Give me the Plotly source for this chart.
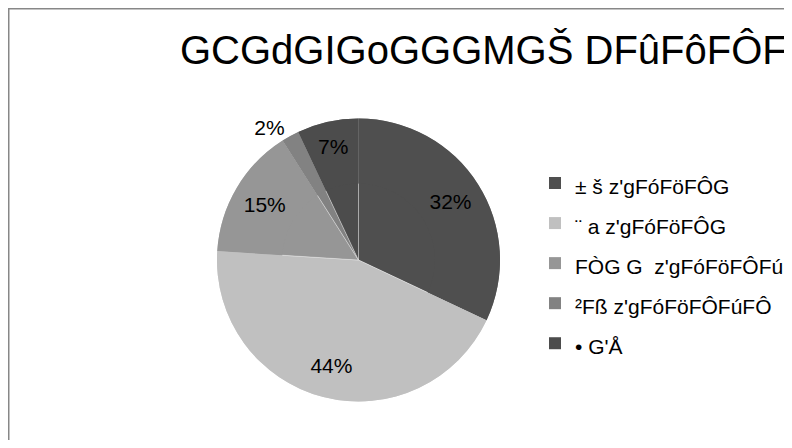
import plotly.graph_objects as go

title_text = "GCGdGIGoGGGMGŠ DFûFôFÔFúFÔ"
categories = ["± š z'gFóFöFÔG", "¨ a z'gFóFöFÔG", "FÒG G  z'gFóFöFÔFú", "²Fß z'gFóFöFÔFúFÔ", "• G'Å"]
values = [32, 44, 15, 2, 7]
colors = ["#4f4f4f", "#c0c0c0", "#969696", "#828282", "#4c4c4c"]

# the page adds an 8px body margin, so the figure is 16px smaller than the window
W, H = 776, 432
cx, cy, r = 350.5, 252, 141.5
FONT = "Liberation Sans, Arial, sans-serif"

dom = dict(x=[(cx - 160) / W, (cx + 160) / W], y=[(H - cy - r) / H, (H - cy + r) / H])

legend_names = ['<span style="font-size:21px">' + c + '</span>' for c in categories]

fig = go.Figure()
# full pie (the slices)
fig.add_trace(go.Pie(
    labels=legend_names, values=values, sort=False,
    direction="clockwise", rotation=0,
    marker=dict(colors=colors, line=dict(color="rgba(255,255,255,0.3)", width=1)),
    textinfo="none", showlegend=False, domain=dom, hoverinfo="skip",
))
# same slices drawn as a ring on top, carrying the percentage labels
fig.add_trace(go.Pie(
    labels=legend_names, values=values, sort=False,
    direction="clockwise", rotation=0, hole=0.54,
    marker=dict(colors=colors, line=dict(width=0)),
    texttemplate="%{percent:.0%}",
    textposition=["inside", "inside", "inside", "outside", "inside"],
    insidetextorientation="horizontal",
    textfont=dict(family=FONT, size=21, color="#000000"),
    domain=dom, hoverinfo="percent", showlegend=True,
))

fig.update_layout(
    width=W, height=H,
    margin=dict(l=0, r=0, t=0, b=0, autoexpand=False),
    paper_bgcolor="white", plot_bgcolor="white",
    font=dict(family=FONT, color="#000000"),
    title=dict(
        text=title_text,
        x=172 / W, xanchor="left", xref="paper",
        y=1 - 41.5 / H, yanchor="middle", yref="paper",
        font=dict(family=FONT, size=40, color="#000000"),
    ),
    showlegend=True,
    legend=dict(
        x=527 / W, xanchor="left",
        y=1 - 150 / H, yanchor="top",
        font=dict(family=FONT, size=28.5, color="#000000"),
        bgcolor="rgba(0,0,0,0)",
        traceorder="normal",
    ),
    shapes=[
        dict(type="line", xref="paper", yref="paper",
             x0=0, x1=1, y0=1 - 0.75 / H, y1=1 - 0.75 / H,
             line=dict(color="#878787", width=1.5)),
        dict(type="line", xref="paper", yref="paper",
             x0=0.75 / W, x1=0.75 / W, y0=0, y1=1,
             line=dict(color="#878787", width=1.5)),
    ],
)

fig.write_html("out.html", config={"displayModeBar": False})
